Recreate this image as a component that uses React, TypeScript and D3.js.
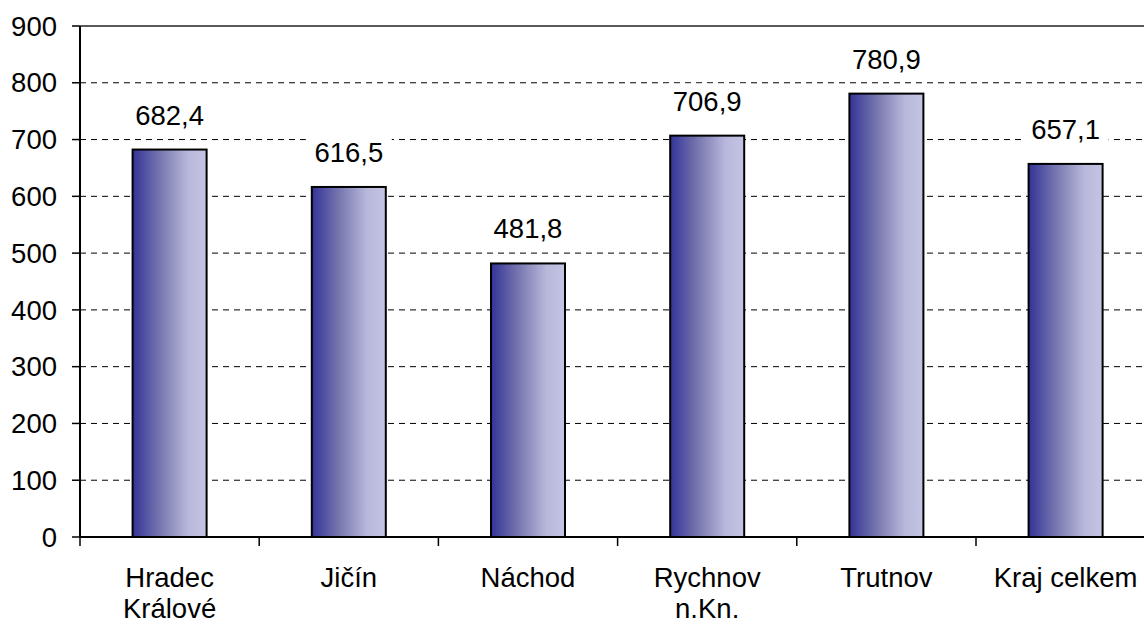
import React from 'react'
import * as d3 from 'd3'

// values
const districts = ['Hradec Králové', 'Jičín', 'Náchod', 'Rychnov n.Kn.', 'Trutnov', 'Kraj celkem']
const districtLines = [['Hradec', 'Králové'], ['Jičín'], ['Náchod'], ['Rychnov', 'n.Kn.'], ['Trutnov'], ['Kraj celkem']]
const values = [682.4, 616.5, 481.8, 706.9, 780.9, 657.1]
const yTicks = [0, 100, 200, 300, 400, 500, 600, 700, 800, 900]

const W = 1144
const H = 624
const FONT = '"Liberation Sans", Arial, sans-serif'
const FS = 27.5

const fmt = (v: number) => v.toFixed(1).replace('.', ',')

const App = () => {
  const left = 80
  const step = 179.2
  const top = 26
  const bottom = 537

  const x = d3.scaleBand<string>()
    .domain(districts)
    .range([left, left + step * districts.length])
    .padding(0)

  const y = d3.scaleLinear()
    .domain([0, 900])
    .range([bottom, top])

  const barW = x.bandwidth() * 0.413
  const xEnd = left + step * districts.length

  return (
    <svg width={W} height={H} style={{ position: 'absolute', left: 0, top: 0, background: '#fff' }}
      fontFamily={FONT}>
      <defs>
        <linearGradient id='barFill' x1='0' x2='1' y1='0' y2='0'>
          <stop offset='0' stopColor='#333399' />
          <stop offset='0.35' stopColor='#7373ad' />
          <stop offset='0.75' stopColor='#b8b8dc' />
          <stop offset='1' stopColor='#c4c4e4' />
        </linearGradient>
      </defs>

      {/* grid */}
      <g>
        {yTicks.filter(t => t > 0 && t < 900).map(t =>
          <line key={t} x1={left} x2={xEnd} y1={y(t)} y2={y(t)} stroke='#000' strokeWidth={1} strokeDasharray='6,5' />
        )}
        <line x1={left} x2={xEnd} y1={y(900)} y2={y(900)} stroke='#222' strokeWidth={1.5} />
      </g>

      {/* bars */}
      <g>
        {districts.map((d, i) => {
          const cx = (x(d) as number) + x.bandwidth() / 2
          return (
            <rect key={d} x={cx - barW / 2} y={y(values[i])} width={barW} height={y(0) - y(values[i])}
              fill='url(#barFill)' stroke='#000' strokeWidth={2} />
          )
        })}
      </g>

      {/* value labels */}
      <g>
        {districts.map((d, i) => {
          const cx = (x(d) as number) + x.bandwidth() / 2
          const base = y(values[i]) - 25
          return (
            <g key={d}>
              <rect x={cx - 43} y={base - 27} width={86} height={38} fill='#fff' />
              <text x={cx} y={base} textAnchor='middle' fontSize={FS} fill='#000'>{fmt(values[i])}</text>
            </g>
          )
        })}
      </g>

      {/* y axis */}
      <g>
        <line x1={left} x2={left} y1={top} y2={bottom} stroke='#000' strokeWidth={2} />
        {yTicks.map(t =>
          <g key={t}>
            <line x1={left - 8} x2={left} y1={y(t)} y2={y(t)} stroke='#000' strokeWidth={1.5} />
            <text x={57} y={y(t)} dy='0.35em' textAnchor='end' fontSize={FS} fill='#000'>{t}</text>
          </g>
        )}
      </g>

      {/* x axis */}
      <g>
        <line x1={left} x2={xEnd} y1={bottom} y2={bottom} stroke='#000' strokeWidth={2} />
        {d3.range(districts.length + 1).map(i =>
          <line key={i} x1={left + i * x.step()} x2={left + i * x.step()} y1={bottom} y2={bottom + 9} stroke='#000' strokeWidth={1.5} />
        )}
        {districts.map((d, i) => {
          const cx = (x(d) as number) + x.bandwidth() / 2
          return (
            <text key={d} x={cx} y={587} textAnchor='middle' fontSize={FS} fill='#000'>
              {districtLines[i].map((ln, j) => <tspan key={j} x={cx} dy={j === 0 ? 0 : 31}>{ln}</tspan>)}
            </text>
          )
        })}
      </g>
    </svg>
  )
}

export default App
